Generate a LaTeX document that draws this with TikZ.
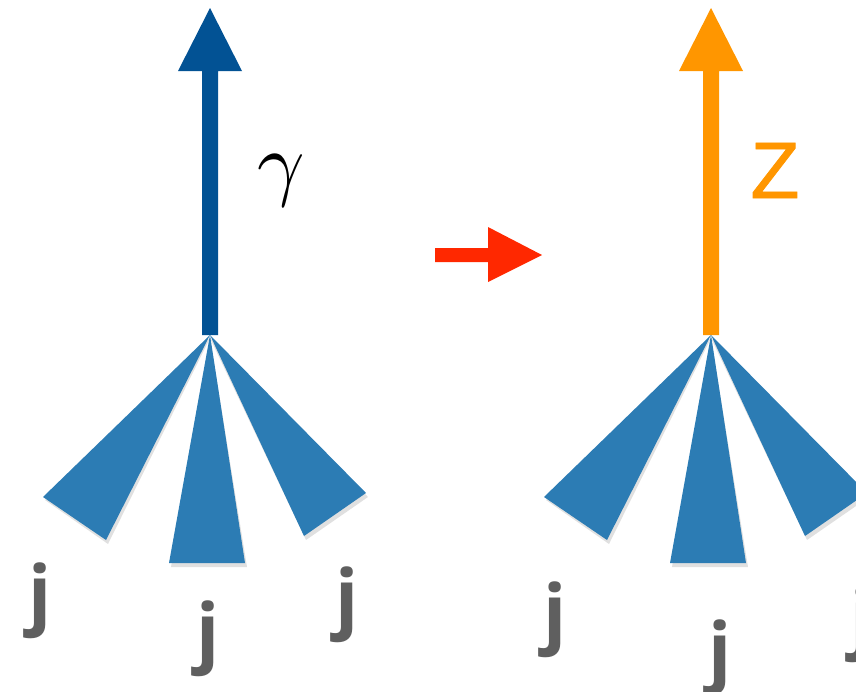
\documentclass[tikz,border=0pt]{standalone}
\usepackage{graphicx}
\usepackage{fontspec}
\setsansfont{Open Sans}
\newfontfamily\zfont[FakeBold=1]{Liberation Sans}
\definecolor{photonblue}{RGB}{2,82,148}
\definecolor{coneblue}{RGB}{44,124,180}
\definecolor{zorange}{RGB}{255,150,0}
\definecolor{arrred}{RGB}{255,40,0}
\definecolor{jgray}{RGB}{95,95,95}
\tikzset{
  jetcone/.style={fill=coneblue, draw=none},
  coneshadow/.style={fill=black, opacity=0.12, draw=none},
  jlabel/.style={inner sep=0pt, anchor=base, text=jgray, font=\sffamily\bfseries\fontsize{76}{76}\selectfont},
}
\begin{document}
\begin{tikzpicture}[x=1pt,y=-1pt]
\useasboundingbox (0,0) rectangle (856,691);
\foreach \dx in {0,501}{
  \begin{scope}[xshift=\dx]
    \fill[coneshadow] (210,338) -- (45,500) -- (108,544) -- cycle;
    \fill[coneshadow] (210,338) -- (171,567) -- (247,567) -- cycle;
    \fill[coneshadow] (210,338) -- (306,540) -- (368,497) -- cycle;
    \fill[jetcone] (210,335) -- (43,497) -- (106,540) -- cycle;
    \fill[jetcone] (210,335) -- (169,563) -- (245,563) -- cycle;
    \fill[jetcone] (210,335) -- (304,536) -- (366,493) -- cycle;
  \end{scope}
}
% photon arrow
\fill[photonblue] (202,335) -- (202,71) -- (178,71) -- (210,8) -- (242,71) -- (218,71) -- (218,335) -- cycle;
\node[inner sep=0pt, anchor=center] (gamma) at (281,181) {\scalebox{8.3}{$\gamma$}};
% Z arrow
\fill[zorange] (703,335) -- (703,71) -- (679,71) -- (711,8) -- (743,71) -- (719,71) -- (719,335) -- cycle;
\node[inner sep=0pt, anchor=base, text=zorange, font=\zfont\fontsize{80}{80}\selectfont] (zlabel) at (775,198) {Z};
% red transition arrow
\fill[arrred] (435,248) -- (488,248) -- (488,227) -- (542,255) -- (488,282) -- (488,262) -- (435,262) -- cycle;
% jet labels
\node[jlabel] (jl1) at (40,620) {j};
\node[jlabel] (jl2) at (208,658) {j};
\node[jlabel] (jl3) at (347,624) {j};
\node[jlabel] (jr1) at (555,639) {j};
\node[jlabel] (jr2) at (720,677) {j};
\node[jlabel] (jr3) at (862,644) {j};
\end{tikzpicture}
\end{document}
